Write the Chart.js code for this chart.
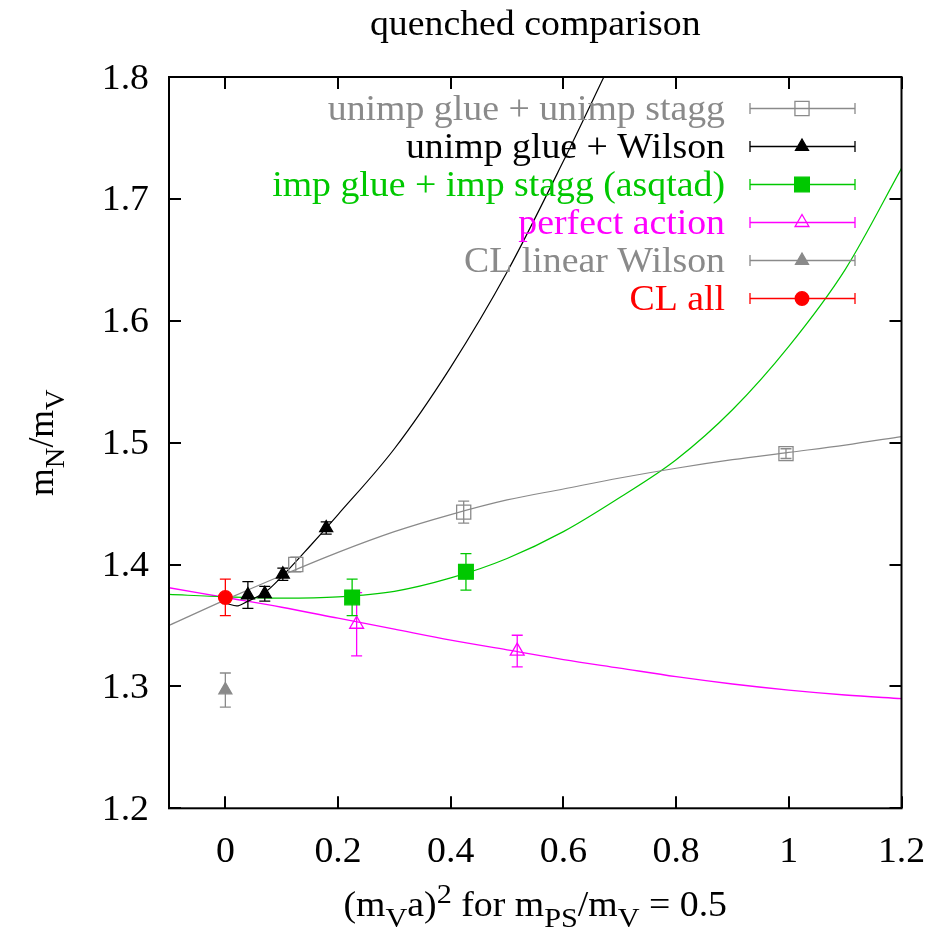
<!DOCTYPE html>
<html>
<head>
<meta charset="utf-8">
<script src="https://cdn.jsdelivr.net/npm/chart.js@4/dist/chart.umd.min.js"></script>
<style>
  html, body { margin: 0; padding: 0; background: #fff; }
</style>
</head>
<body>
<canvas id="chart" width="946" height="930"></canvas>
<script>
// Axis ticks and their printed labels
const xTicks = [0, 0.2, 0.4, 0.6, 0.8, 1, 1.2];
const xTickLabels = ['0', '0.2', '0.4', '0.6', '0.8', '1', '1.2'];
const yTicks = [1.2, 1.3, 1.4, 1.5, 1.6, 1.7, 1.8];
const yTickLabels = ['1.2', '1.3', '1.4', '1.5', '1.6', '1.7', '1.8'];

// Measured mass ratios with errors
const staggX = [0.125, 0.423, 0.995];
const staggY = [1.400, 1.443, 1.491];
const staggErr = [0.006, 0.009, 0.004];

const wilsonX = [0.040, 0.070, 0.102, 0.179];
const wilsonY = [1.375, 1.376, 1.392, 1.430];
const wilsonErr = [0.011, 0.006, 0.005, 0.005];

const asqtadX = [0.225, 0.427];
const asqtadY = [1.373, 1.394];
const asqtadErr = [0.015, 0.015];

const perfectX = [0.233, 0.518];
const perfectY = [1.351, 1.329];
const perfectErr = [0.026, 0.013];

const clWilsonX = [0];
const clWilsonY = [1.297];
const clWilsonErr = [0.014];

const clAllX = [0];
const clAllY = [1.373];
const clAllErr = [0.015];

// Fit curves, sampled along x
const fitX = [-0.1, 0, 0.1, 0.2, 0.3, 0.4, 0.5, 0.6, 0.7, 0.8, 0.9, 1.0, 1.1, 1.2];
const fitStaggY = [1.350, 1.371, 1.391, 1.410, 1.427, 1.441, 1.453, 1.462, 1.471, 1.479, 1.486, 1.492, 1.498, 1.505];
const fitAsqtadY = [1.3755, 1.3735, 1.3725, 1.3735, 1.378, 1.389, 1.405, 1.427, 1.455, 1.486, 1.527, 1.579, 1.642, 1.725];
const fitPerfectY = [1.381, 1.373, 1.365, 1.356, 1.347, 1.338, 1.330, 1.322, 1.315, 1.308, 1.302, 1.297, 1.293, 1.290];
const fitWilsonX = [0.003, 0.02, 0.04, 0.07, 0.10, 0.15, 0.20, 0.30, 0.40, 0.50, 0.60, 0.68];
const fitWilsonY = [1.368, 1.366, 1.370, 1.377, 1.390, 1.415, 1.441, 1.495, 1.562, 1.640, 1.731, 1.808];

const GREY = '#8a8a8a';
const GREEN = '#00c800';
const MAGENTA = '#ff00ff';
const RED = '#ff0000';
const FONT = '"Liberation Serif", "Times New Roman", serif';
const FS = 35;     // base font size
const SX = 1.08;   // horizontal text widening

const pts = (xs, ys) => xs.map((x, i) => ({ x: x, y: ys[i] }));

function pointSet(label, xs, ys, errs, color, style, radius, filled) {
  return {
    label: label,
    data: pts(xs, ys),
    errors: errs,
    showLine: false,
    pointStyle: style,
    pointRadius: radius,
    pointBorderWidth: 1.3,
    borderColor: color,
    backgroundColor: filled ? color : 'rgba(0,0,0,0)'
  };
}

function curveSet(xs, ys, color, width) {
  return {
    data: pts(xs, ys),
    showLine: true,
    pointRadius: 0,
    borderColor: color,
    borderWidth: width,
    cubicInterpolationMode: 'monotone',
    fill: false
  };
}

const datasets = [
  pointSet('unimp glue + unimp stagg', staggX, staggY, staggErr, GREY, 'rect', 10, false),
  pointSet('unimp glue + Wilson', wilsonX, wilsonY, wilsonErr, '#000000', 'triangle', 7.5, true),
  pointSet('imp glue + imp stagg (asqtad)', asqtadX, asqtadY, asqtadErr, GREEN, 'rect', 10.4, true),
  pointSet('perfect action', perfectX, perfectY, perfectErr, MAGENTA, 'triangle', 8, false),
  pointSet('CL linear Wilson', clWilsonX, clWilsonY, clWilsonErr, GREY, 'triangle', 7.5, true),
  pointSet('CL all', clAllX, clAllY, clAllErr, RED, 'circle', 6.8, true),
  curveSet(fitWilsonX, fitWilsonY, '#000000', 1.2),
  curveSet(fitX, fitStaggY, GREY, 1.2),
  curveSet(fitX, fitAsqtadY, GREEN, 1.2),
  curveSet(fitX, fitPerfectY, MAGENTA, 1.4)
];

// widened text: parts = [{t, k}] with k = 'sub' | 'sup' | undefined
function drawRich(ctx, parts, x, y, align, sx) {
  let total = 0;
  const widths = parts.map(p => {
    ctx.font = (p.k ? FS * 0.8 : FS) + 'px ' + FONT;
    const w = ctx.measureText(p.t).width;
    total += w;
    return w;
  });
  ctx.save();
  ctx.translate(x, y);
  ctx.scale(sx, 1);
  ctx.textAlign = 'left';
  ctx.textBaseline = 'alphabetic';
  let cx = align === 'center' ? -total / 2 : align === 'right' ? -total : 0;
  parts.forEach((p, i) => {
    ctx.font = (p.k ? FS * 0.8 : FS) + 'px ' + FONT;
    const dy = p.k === 'sub' ? FS * 0.32 : p.k === 'sup' ? -FS * 0.37 : 0;
    ctx.fillText(p.t, cx, dy);
    cx += widths[i];
  });
  ctx.restore();
}

// error bars drawn just beneath each point set
const errorBars = {
  id: 'errorBars',
  beforeDatasetDraw(chart, args) {
    const ds = chart.data.datasets[args.index];
    if (!ds.errors) return;
    const ctx = chart.ctx;
    const xs = chart.scales.x, ys = chart.scales.y;
    ctx.save();
    ctx.strokeStyle = ds.borderColor;
    ctx.lineWidth = 1.3;
    ds.data.forEach((p, i) => {
      const px = xs.getPixelForValue(p.x);
      const top = ys.getPixelForValue(p.y + ds.errors[i]);
      const bot = ys.getPixelForValue(p.y - ds.errors[i]);
      ctx.beginPath();
      ctx.moveTo(px, top); ctx.lineTo(px, bot);
      ctx.moveTo(px - 5.5, top); ctx.lineTo(px + 5.5, top);
      ctx.moveTo(px - 5.5, bot); ctx.lineTo(px + 5.5, bot);
      ctx.stroke();
    });
    ctx.restore();
  }
};

// border, inward ticks, tick labels and titles
const frame = {
  id: 'frame',
  afterDraw(chart) {
    const ctx = chart.ctx;
    const a = chart.chartArea;
    const xs = chart.scales.x, ys = chart.scales.y;
    ctx.save();
    ctx.strokeStyle = '#000';
    ctx.lineWidth = 2;
    ctx.strokeRect(a.left, a.top, a.right - a.left, a.bottom - a.top);
    ctx.beginPath();
    xTicks.forEach(v => {
      const px = Math.round(xs.getPixelForValue(v));
      ctx.moveTo(px, a.bottom); ctx.lineTo(px, a.bottom - 12);
      ctx.moveTo(px, a.top); ctx.lineTo(px, a.top + 12);
    });
    yTicks.forEach(v => {
      const py = Math.round(ys.getPixelForValue(v));
      ctx.moveTo(a.left, py); ctx.lineTo(a.left + 12, py);
      ctx.moveTo(a.right, py); ctx.lineTo(a.right - 12, py);
    });
    ctx.stroke();

    ctx.fillStyle = '#000';
    xTicks.forEach((v, i) => {
      drawRich(ctx, [{ t: xTickLabels[i] }], xs.getPixelForValue(v), 862, 'center', SX);
    });
    yTicks.forEach((v, i) => {
      drawRich(ctx, [{ t: yTickLabels[i] }], 149, ys.getPixelForValue(v) + 11.5, 'right', SX);
    });

    const midX = (a.left + a.right) / 2;
    drawRich(ctx, [{ t: 'quenched comparison' }], midX, 35, 'center', SX);
    drawRich(ctx, [
      { t: '(m' }, { t: 'V', k: 'sub' }, { t: 'a)' }, { t: '2', k: 'sup' },
      { t: ' for m' }, { t: 'PS', k: 'sub' }, { t: '/m' }, { t: 'V', k: 'sub' }, { t: ' = 0.5' }
    ], midX, 916, 'center', SX);

    ctx.save();
    ctx.translate(53, (a.top + a.bottom) / 2);
    ctx.rotate(-Math.PI / 2);
    drawRich(ctx, [{ t: 'm' }, { t: 'N', k: 'sub' }, { t: '/m' }, { t: 'V', k: 'sub' }], 0, 0, 'center', 1.02);
    ctx.restore();
    ctx.restore();
  }
};

// key in the upper right: right-aligned labels with error-bar samples
const keyBox = {
  id: 'keyBox',
  afterDraw(chart) {
    const ctx = chart.ctx;
    const entries = chart.data.datasets.filter(d => d.errors);
    entries.forEach((d, i) => {
      const y = 108.5 + i * 38;
      ctx.save();
      ctx.fillStyle = d.borderColor;
      drawRich(ctx, [{ t: d.label }], 725, y + 11.5, 'right', SX);
      ctx.strokeStyle = d.borderColor;
      ctx.lineWidth = 1.3;
      ctx.beginPath();
      ctx.moveTo(750, y); ctx.lineTo(855, y);
      ctx.moveTo(750, y - 5.5); ctx.lineTo(750, y + 5.5);
      ctx.moveTo(855, y - 5.5); ctx.lineTo(855, y + 5.5);
      ctx.stroke();
      ctx.fillStyle = d.backgroundColor;
      ctx.lineWidth = d.pointBorderWidth;
      Chart.helpers.drawPoint(ctx, {
        pointStyle: d.pointStyle,
        radius: d.pointRadius,
        rotation: 0,
        borderWidth: d.pointBorderWidth
      }, 802, y);
      ctx.restore();
    });
  }
};

new Chart(document.getElementById('chart'), {
  type: 'scatter',
  data: { datasets: datasets },
  options: {
    responsive: false,
    animation: false,
    layout: { padding: { left: 169, right: 44.5, top: 77, bottom: 121.7 } },
    scales: {
      x: { type: 'linear', min: -0.1, max: 1.2, display: false },
      y: { type: 'linear', min: 1.2, max: 1.8, display: false }
    },
    plugins: {
      legend: { display: false },
      tooltip: { enabled: false }
    }
  },
  plugins: [errorBars, frame, keyBox]
});
</script>
</body>
</html>
